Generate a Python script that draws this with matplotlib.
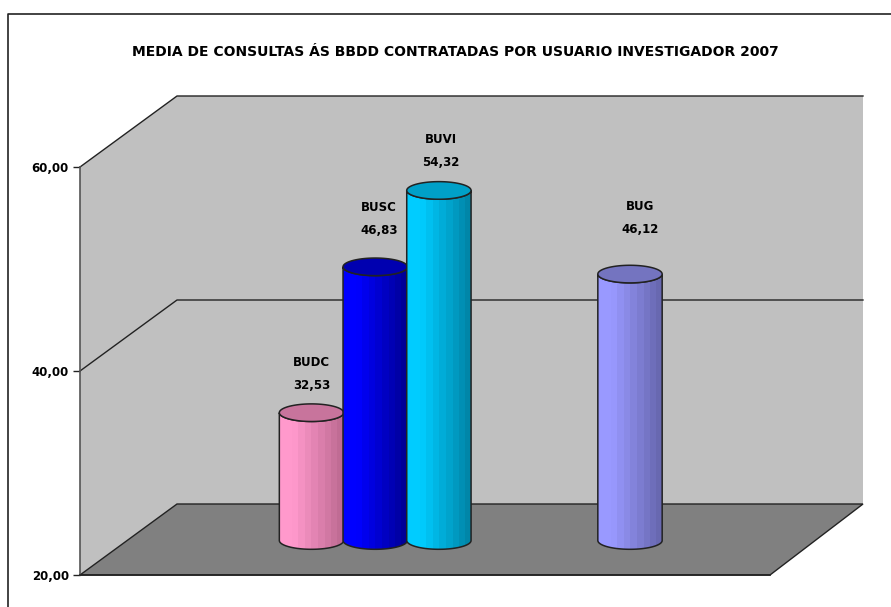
import numpy as np
import matplotlib
matplotlib.use('Agg')
import matplotlib.pyplot as plt
from matplotlib.colors import LinearSegmentedColormap
from matplotlib.lines import Line2D
from matplotlib.patches import Polygon

# datos
categories = ['BUDC', 'BUSC', 'BUVI', 'BUG']
values = [32.53, 46.83, 54.32, 46.12]
slots = [0, 1, 2, 5]
y_ticks = [20, 40, 60]
title = 'MEDIA DE CONSULTAS ÁS BBDD CONTRATADAS POR USUARIO INVESTIGADOR 2007'

# estilo
light = ['#FF99CC', '#0000FF', '#00CCFF', '#9999FF']
dark = ['#C06C94', '#000098', '#0086A8', '#6868B0']
top_col = ['#C8749C', '#0000B0', '#00A0C8', '#7474C0']
label_off = [(0, 27), (4, 36), (2, 28), (10, 45)]  # px sobre la barra

W, H = 891, 607
LINE = '#222222'
fig = plt.figure(figsize=(W / 100, H / 100), dpi=100, facecolor='white')
ax = fig.add_axes([80 / W, 1 - 575 / H, 690 / W, 408 / H])

PX_X = 63.7  # px por hueco
PX_Y = 408 / 40  # px por unidad
ax.set_xlim((80 - 311.5) / PX_X, (770 - 311.5) / PX_X)
ax.set_ylim(20, 60)
ax.patch.set_visible(False)
for side in ['top', 'right']:
    ax.spines[side].set_visible(False)
ax.spines['left'].set_color('#555555')
ax.spines['left'].set_linewidth(1.2)
ax.spines['bottom'].set_color(LINE)
ax.spines['bottom'].set_linewidth(1.2)
ax.set_xticks([])
ax.set_yticks(y_ticks)
ax.set_yticklabels([f'{t:.2f}'.replace('.', ',') for t in y_ticks],
                   fontsize=8.5, fontweight='bold', color='black')
ax.tick_params(axis='y', length=5, width=1, color=LINE, pad=3)

# paredes y suelo en perspectiva
x0, x1 = ax.get_xlim()
dx, dy = 97 / PX_X, 71 / PX_Y
dx2 = 93 / PX_X
ymin, ymax = y_ticks[0], y_ticks[-1]
ax.add_patch(Polygon([(x0, ymin), (x0, ymax), (x0 + dx, ymax + dy),
                      (x1 + dx2, ymax + dy), (x1 + dx2, ymin + dy), (x0 + dx, ymin + dy)],
                     fc='#C0C0C0', ec='none', clip_on=False, zorder=1))
ax.add_patch(Polygon([(x0, ymin), (x0 + dx, ymin + dy), (x1 + dx2, ymin + dy), (x1, ymin)],
                     fc='#808080', ec=LINE, lw=1, clip_on=False, zorder=2))
for t in y_ticks[1:]:
    ax.plot([x0, x0 + dx, x1 + dx2], [t, t + dy, t + dy], color=LINE, lw=1,
            clip_on=False, zorder=2.5)

# cilindros
half_w = 0.505
half_h = 8.8 / PX_Y
base = 20 + (575 - 540.5) / PX_Y
theta = np.linspace(0, 2 * np.pi, 121)
lower = np.linspace(np.pi, 2 * np.pi, 61)  # arco de delante

for i, (s, v) in enumerate(zip(slots, values)):
    top = base + (v - 20)
    z = 3 + i
    xs = s + half_w * np.cos(lower)
    side = np.vstack([
        np.column_stack([xs, top + half_h * np.sin(lower)])[::-1],
        np.column_stack([xs, base + half_h * np.sin(lower)]),
    ])
    patch = Polygon(side, fc='none', ec=LINE, lw=1.1, clip_on=False, zorder=z + 0.2)
    ax.add_patch(patch)
    cmap = LinearSegmentedColormap.from_list('c', [(0, light[i]), (0.2, light[i]), (1, dark[i])], N=10)
    im = ax.imshow(np.linspace(0, 1, 64)[None, :], extent=(s - half_w, s + half_w, base - half_h, top),
                   aspect='auto', cmap=cmap, zorder=z, interpolation='nearest')
    im.set_clip_path(patch)
    ax.add_patch(Polygon(np.column_stack([s + half_w * np.cos(theta), top + half_h * np.sin(theta)]),
                         fc=top_col[i], ec=LINE, lw=1.1, clip_on=False, zorder=z + 0.3))
    # etiqueta de datos
    ox, oy = label_off[i]
    ax.annotate(f'{v:.2f}'.replace('.', ','), (s, top), xytext=(ox, oy), textcoords='offset pixels',
                ha='center', va='center', fontsize=8.5, fontweight='bold', annotation_clip=False, zorder=10)
    ax.annotate(categories[i], (s, top), xytext=(ox, oy + 23), textcoords='offset pixels',
                ha='center', va='center', fontsize=8.5, fontweight='bold', annotation_clip=False, zorder=10)

ax.set_xlim(x0, x1)
ax.set_ylim(20, 60)

fig.text(455.5 / W, 1 - 52 / H, title, ha='center', va='center', fontsize=10, fontweight='bold')

# marco del grafico
fig.add_artist(Line2D([8 / W, 8 / W, 1], [0, 1 - 13.5 / H, 1 - 13.5 / H], color='#222222', lw=1.2))

fig.savefig('out.png', dpi=100, facecolor='white')
